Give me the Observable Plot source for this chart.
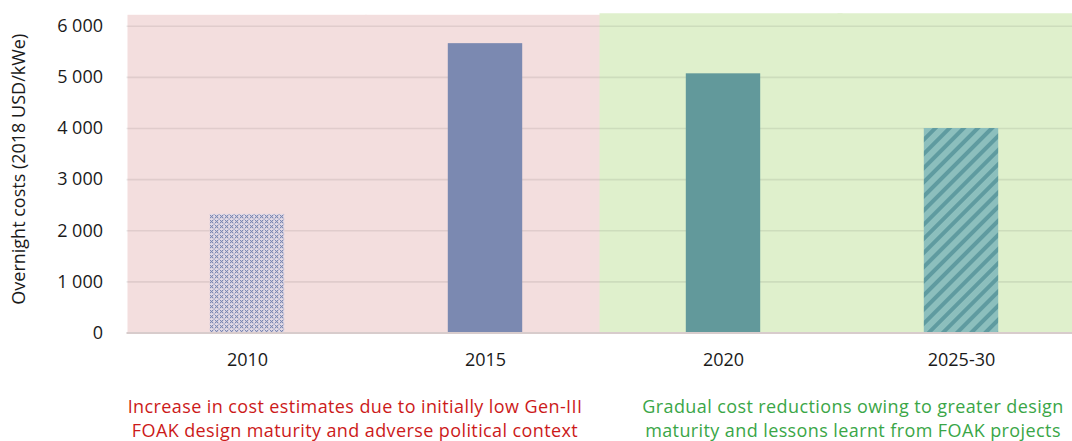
<!DOCTYPE html>
<html><head><meta charset="utf-8">
<script src="https://cdn.jsdelivr.net/npm/d3@7"></script>
<script src="https://cdn.jsdelivr.net/npm/@observablehq/plot@0.6"></script>
<style>
body{margin:0;background:#fff;font-family:"Open Sans",sans-serif;}
#wrap{position:relative;width:1072px;height:441px;overflow:hidden;}
#wrap svg{position:absolute;left:0;top:0;}
.note{position:absolute;text-align:center;font-size:18px;letter-spacing:0.4px;line-height:24px;height:24px;white-space:nowrap;}
</style></head><body>
<div id="wrap"></div>
<script>
// ---- data ----
const categories = ["2010", "2015", "2020", "2025-30"];
const costs = [2320, 5660, 5070, 4000];
const categoryPhase = ["increase", "increase", "reduction", "reduction"];
const phaseNames = ["increase", "reduction"];
const phaseTops = [6215, 6245];
const yTicks = [0, 1000, 2000, 3000, 4000, 5000, 6000];
const yLabel = "Overnight costs (2018 USD/kWe)";
const noteLines = [
  ["Increase in cost estimates due to initially low Gen-III", "FOAK design maturity and adverse political context"],
  ["Gradual cost reductions owing to greater design", "maturity and lessons learnt from FOAK projects"]
];

// ---- styles ----
const barFill = {"2010": "url(#dots2010)", "2015": "#7b89b1", "2020": "#62999b", "2025-30": "url(#hatch2030)"};
const phaseFill = {increase: "#f3dede", reduction: "#dff0cc"};
const noteColor = {increase: "#cc1a1a", reduction: "#3aa647"};

const bars = categories.map((c, i) => ({category: c, cost: costs[i], phase: categoryPhase[i]}));
const bg = categories.map((c, i) => ({category: c, phase: categoryPhase[i], top: phaseTops[phaseNames.indexOf(categoryPhase[i])]}));

const fmt = d => d3.format(",")(d).replace(/,/g, " ");

const plot = Plot.plot({
  width: 1072, height: 441,
  marginTop: 13, marginBottom: 108.5, marginLeft: 126.5, marginRight: 0,
  x: {domain: categories, range: [126.5, 1081], padding: 0, tickSize: 0, tickPadding: 20, label: null},
  y: {domain: [0, 6250], ticks: yTicks, tickSize: 0, tickPadding: 24, tickFormat: fmt, label: null},
  color: {type: "identity"},
  style: {fontFamily: "Open Sans", fontSize: "18px", color: "#1a1a1a", background: "transparent", overflow: "visible"},
  marks: [
    Plot.barY(bg.filter(d => d.phase === "increase"), {x: "category", y: "top", fill: d => phaseFill[d.phase], insetLeft: -0.5, insetRight: -0.5}),
    Plot.barY(bg.filter(d => d.phase === "reduction"), {x: "category", y: "top", fill: d => phaseFill[d.phase], insetLeft: -4.5, insetRight: -0.5}),
    Plot.ruleY(yTicks.filter(d => d > 0), {stroke: "#000", strokeOpacity: 0.08, strokeWidth: 1.6}),
    Plot.barY(bars, {x: "category", y: "cost", fill: d => barFill[d.category], insetLeft: 81.8, insetRight: 81.8}),
    Plot.ruleY([0], {stroke: "#d8cccc", strokeWidth: 2}),
    Plot.text([yLabel], {frameAnchor: "left", rotate: -90, dx: -108, dy: -4, fontSize: 18, textAnchor: "middle", fill: "#1a1a1a"})
  ]
});

const defs = d3.select(plot).insert("defs", ":first-child");
const dots = defs.append("pattern").attr("id", "dots2010").attr("patternUnits", "userSpaceOnUse")
  .attr("width", 5).attr("height", 5);
dots.append("rect").attr("width", 5).attr("height", 5).attr("fill", "#e4dbe6");
[[0,0],[2,0],[1,1],[0,2],[2,2],[3.5,3.5]].forEach(([px, py]) =>
  dots.append("rect").attr("x", px).attr("y", py).attr("width", 1.2).attr("height", 1.2).attr("fill", "#7b88b3"));
const hatch = defs.append("pattern").attr("id", "hatch2030").attr("patternUnits", "userSpaceOnUse")
  .attr("width", 10).attr("height", 10).attr("patternTransform", "rotate(45)");
hatch.append("rect").attr("width", 10).attr("height", 10).attr("fill", "#8cbfbd");
hatch.append("rect").attr("width", 4).attr("height", 10).attr("fill", "#5f9ba0");

const wrap = document.getElementById("wrap");
wrap.appendChild(plot);

const notePos = [{left: 90, width: 530}, {left: 588, width: 530}];
noteLines.forEach((lines, i) => {
  lines.forEach((line, j) => {
    const div = document.createElement("div");
    div.className = "note";
    div.style.color = noteColor[phaseNames[i]];
    div.style.left = notePos[i].left + "px";
    div.style.width = notePos[i].width + "px";
    div.style.top = (394 + j * 24) + "px";
    div.textContent = line;
    wrap.appendChild(div);
  });
});
</script>
</body></html>
